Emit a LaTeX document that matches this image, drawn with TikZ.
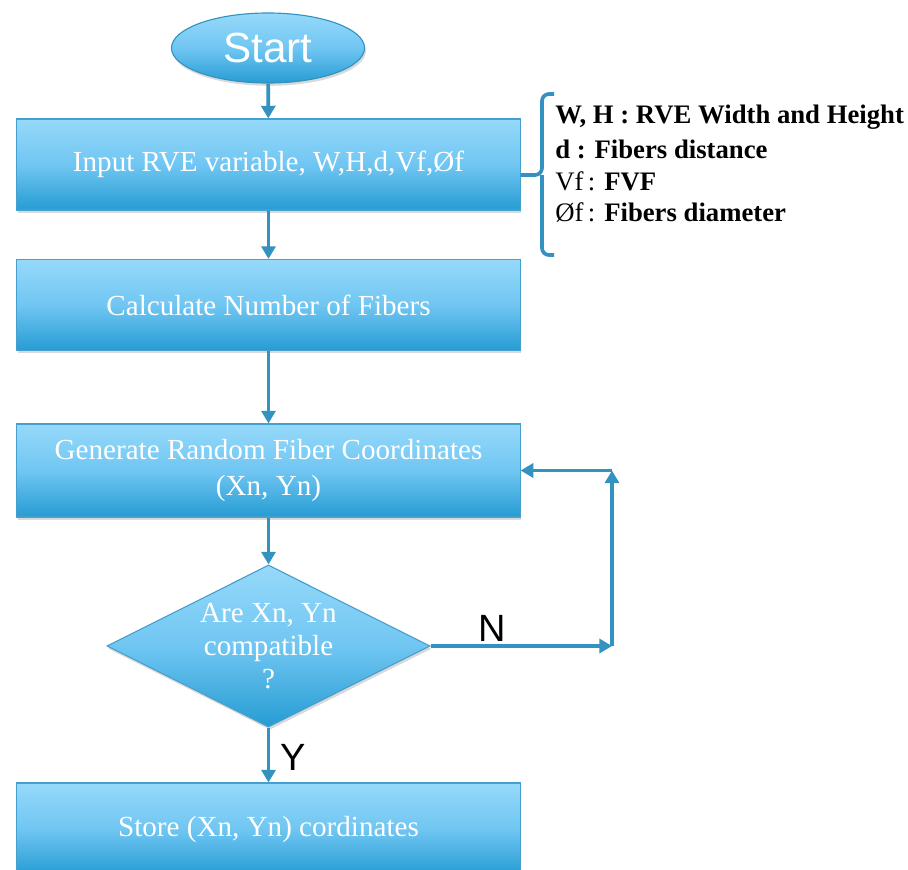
\documentclass[tikz,border=0pt]{standalone}
\usepackage{fontspec}
\setmainfont{Liberation Serif}
\newfontfamily\arialfont{Liberation Sans}
\usepackage{xcolor}
\usetikzlibrary{positioning,%
  arrows.meta,%
  shapes.geometric,%
  shadows
}

\definecolor{boxtop}{RGB}{150,217,250}
\definecolor{boxmid}{RGB}{112,198,242}
\definecolor{boxbot}{RGB}{38,156,211}
\definecolor{boxline}{RGB}{70,160,206}
\definecolor{flowline}{RGB}{52,146,192}

\tikzset{
  blueshade/.style={draw=boxline, line width=0.8pt,
    top color=boxtop, bottom color=boxbot, middle color=boxmid,
    drop shadow={opacity=0.3, shadow xshift=1pt, shadow yshift=-2pt},
    text=white, inner sep=0pt, align=center},
  flowbox/.style={blueshade, rectangle, minimum width=12.575cm, minimum height=2.275cm,
    font=\fontsize{20.7}{25.5}\selectfont},
  startshape/.style={blueshade, ellipse, draw=flowline, minimum width=4.825cm, minimum height=1.75cm,
    font=\arialfont\fontsize{30}{32}\selectfont},
  decision/.style={blueshade, diamond, aspect=2, minimum width=8.075cm, minimum height=4.05cm,
    font=\fontsize{20.7}{23.5}\selectfont},
  flow/.style={draw=flowline, line width=2.6pt, -{Triangle[length=9pt,width=10pt]}},
  branchlabel/.style={font=\arialfont\fontsize{27}{30}\selectfont, text=black, inner sep=0pt},
  legend/.style={anchor=west, font=\fontsize{19}{22}\selectfont, text=black, inner sep=0pt}
}

\begin{document}
\begin{tikzpicture}[x=0.025cm, y=-0.025cm]
            \useasboundingbox (0,0) rectangle (908,869);
            \clip (0,0) rectangle (908,869);

            % flow chart blocks
            \node[startshape] (start) at (268,48) {Start};
            \node[flowbox] (input) at (268.5,164.5) {Input RVE variable, W,H,d,Vf,Øf};
            \node[flowbox] (calc) at (268.5,305) {Calculate Number of Fibers};
            \node[flowbox, minimum height=2.325cm] (gen) at (268.5,470.5) {Generate Random Fiber Coordinates\\(Xn, Yn)};
            \node[decision] (check) at (268.5,646) {Are Xn, Yn\\compatible\\?};
            \node[flowbox, minimum height=2.3cm] (store) at (268.5,829) {Store (Xn, Yn) cordinates};

            % main flow
            \draw[flow] (start) -- (input);
            \draw[flow] (input) -- (calc);
            \draw[flow] (calc) -- (gen);
            \draw[flow] (gen) -- (check);
            \draw[flow] (check) -- (store);
            \node[branchlabel] (yes) at (293,757) {Y};

            % loop back when not compatible
            \coordinate (loopa) at (612,646);
            \coordinate (loopb) at (612,470.5);
            \draw[flow] (check.east) -- (loopa);
            \draw[flow] (loopa) -- (loopb);
            \draw[flow] (loopb) -- (gen.east);
            \node[branchlabel] (no) at (492,628) {N};

            % bracket with variable legend
            \coordinate (brtip) at (input.east |- 0,175);
            \draw[flowline, line width=2.6pt, rounded corners=5pt]
                (554,94) -- (542,94) -- (542,175) -- (brtip)
                (542,175) -- (542,255) -- (554,255);
            \node[legend] (wh) at (555,117) {\textbf{W, H : RVE Width and Height}};
            \node[legend] (dist) at (555,149) {\textbf{d : Fibers distance}};
            \node[legend] (vf) at (555,181) {Vf\,: \textbf{FVF}};
            \node[legend] (phi) at (555,212) {Øf\,: \textbf{Fibers diameter}};
        \end{tikzpicture}
\end{document}
